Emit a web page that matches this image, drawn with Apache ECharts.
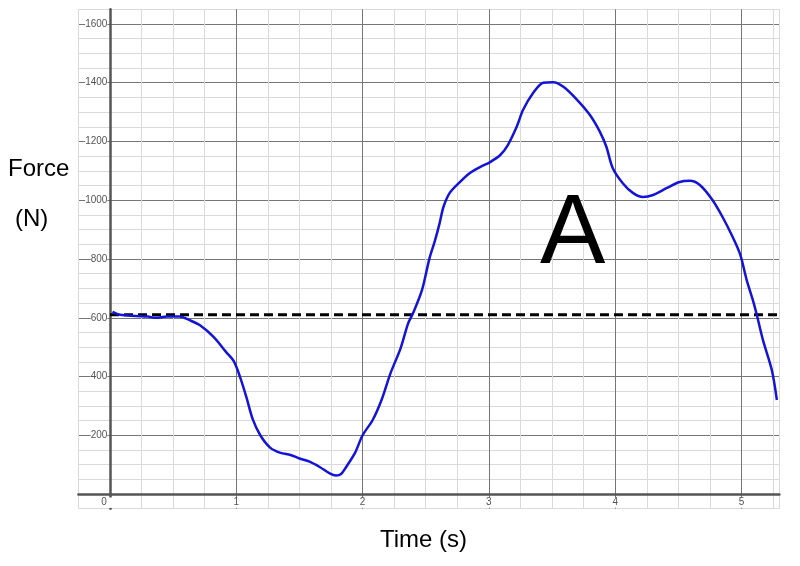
<!DOCTYPE html>
<html>
<head>
<meta charset="utf-8">
<script src="https://cdn.jsdelivr.net/npm/echarts@6/dist/echarts.min.js"></script>
<style>html,body{margin:0;padding:0;background:#fff}#c{width:800px;height:566px}</style>
</head>
<body>
<div id="c"></div>
<script>
// Data
var timeS = [0.02,0.08,0.2,0.3,0.36,0.45,0.55,0.63,0.71,0.82,0.92,0.98,1.03,1.08,1.13,1.19,1.27,1.35,1.43,1.50,1.58,1.66,1.74,1.79,1.83,1.87,1.94,2.00,2.08,2.15,2.22,2.30,2.36,2.40,2.47,2.53,2.57,2.61,2.64,2.69,2.77,2.85,2.93,3.01,3.09,3.15,3.22,3.27,3.35,3.43,3.51,3.59,3.70,3.80,3.88,3.93,3.98,4.06,4.14,4.22,4.30,4.41,4.51,4.59,4.67,4.77,4.85,4.93,4.99,5.04,5.09,5.12,5.17,5.24,5.28];
var forceN = [620,610,606,604,600,604,604,592,575,535,483,452,398,330,255,200,157,140,133,121,110,92,70,63,68,92,140,200,252,320,410,495,580,616,694,803,858,922,977,1025,1062,1093,1113,1130,1154,1188,1250,1307,1365,1400,1402,1386,1341,1290,1232,1182,1110,1058,1025,1011,1018,1042,1062,1066,1052,1001,943,875,815,730,660,612,524,422,320];
var bodyWeight = 610;
var weightLineTimes = [0, 5.3];
var xTickLabels = [0,1,2,3,4,5];
var yTickLabels = [200,400,600,800,1000,1200,1400,1600];

var curve = timeS.map(function(t,i){return [t, forceN[i]];});
var weightLine = weightLineTimes.map(function(t){return [t, bodyWeight];});

var minorC = '#dadada', majorC = '#767676';
var chart = echarts.init(document.getElementById('c'), null, {renderer:'canvas'});
chart.setOption({
  animation:false,
  backgroundColor:'#fff',
  grid:{left:78.4, right:20.6, top:9.3, bottom:57.3, containLabel:false},
  xAxis:{
    type:'value', min:-0.25, max:5.3, interval:0.25,
    axisLine:{onZero:true, lineStyle:{color:'#555', width:2.5}},
    axisTick:{show:false},
    axisLabel:{
      inside:true, margin:1, fontSize:10, color:'#555', fontFamily:'Liberation Sans, Arial',
      backgroundColor:'#fff',
      formatter:function(v){
        var r=Math.round(v);
        if (Math.abs(v-r)>1e-6 || xTickLabels.indexOf(r)<0) return '';
        return r===0 ? '{z|0}' : String(r);
      },
      rich:{z:{padding:[0,12,0,0], fontSize:10, color:'#555', backgroundColor:'#fff'}}
    },
    splitLine:{show:true, showMinLine:true, showMaxLine:true, lineStyle:{color:[minorC,majorC,minorC,minorC], width:1}}
  },
  yAxis:{
    type:'value', min:-50, max:1650, interval:50,
    axisLine:{onZero:true, lineStyle:{color:'#555', width:2.5}},
    axisTick:{show:false},
    axisLabel:{
      inside:true, margin:29, align:'right', fontSize:10, color:'#555', fontFamily:'Liberation Sans, Arial',
      backgroundColor:'#fff',
      formatter:function(v){
        var r=Math.round(v);
        return yTickLabels.indexOf(r)>=0 ? String(r) : '';
      }
    },
    splitLine:{show:true, showMinLine:true, showMaxLine:true, lineStyle:{color:[minorC,majorC,minorC,minorC], width:1}}
  },
  series:[
    {type:'line', data:weightLine, symbol:'none', silent:true,
     lineStyle:{color:'#000', width:3, type:[9,5]}, z:3},
    {type:'line', data:curve, symbol:'none', smooth:0.3,
     lineStyle:{color:'#1414d8', width:2.5}, z:4}
  ],
  graphic:[
    {type:'text', left:8, top:157, style:{text:'Force', fontSize:24, fontFamily:'Liberation Sans', fontWeight:'normal', fill:'#000'}},
    {type:'text', left:15, top:207, style:{text:'(N)', fontSize:24, fontFamily:'Liberation Sans', fontWeight:'normal', fill:'#000'}},
    {type:'text', left:380, top:528, style:{text:'Time (s)', fontSize:24, fontFamily:'Liberation Sans', fontWeight:'normal', fill:'#000'}},
    {type:'text', left:540, top:187, z:10, style:{text:'A', fontSize:98, fontFamily:'Liberation Sans', fontWeight:'normal', fill:'#000'}}
  ]
});
</script>
</body>
</html>
